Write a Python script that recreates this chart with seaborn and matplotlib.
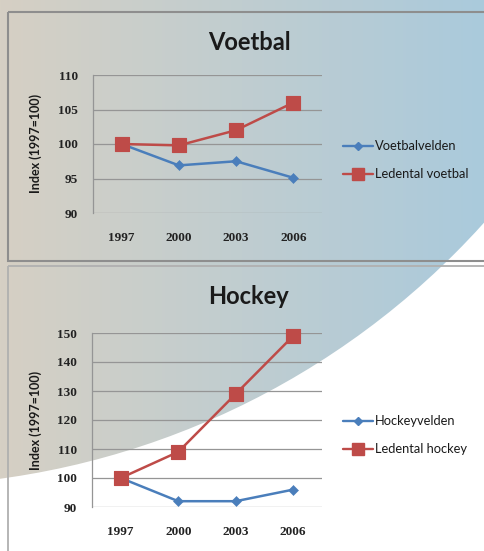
import numpy as np
import pandas as pd
import matplotlib
matplotlib.use("Agg")
import matplotlib.pyplot as plt
from matplotlib.patches import Circle, Rectangle
import seaborn as sns

years = ["1997", "2000", "2003", "2006"]

voetbalvelden = [100, 96.9, 97.5, 95.1]
ledental_voetbal = [100, 99.8, 102.0, 106.0]

hockeyvelden = [100, 92.0, 92.0, 96.0]
ledental_hockey = [100, 109.0, 129.0, 149.0]

sns.set_theme(style="white")
plt.rcParams["font.family"] = ["Lato", "DejaVu Sans"]

W, H = 484, 551
fig = plt.figure(figsize=(W / 100, H / 100), dpi=100)
fig.patch.set_facecolor("white")

# slide background: tan -> blue gradient inside a large circle, white outside
bg = fig.add_axes([0, 0, 1, 1])
bg.set_xlim(0, W)
bg.set_ylim(H, 0)
bg.axis("off")
tan = np.array([214, 208, 196]) / 255
blue = np.array([170, 202, 220]) / 255
t = np.linspace(0, 1, 256)[None, :, None]
grad = tan + (blue - tan) * t
grad = np.repeat(grad, 2, axis=0)
im = bg.imshow(grad, extent=[0, W, H, 0], aspect="auto", zorder=0)
circ = Circle((-107, -309), 795, transform=bg.transData, facecolor="none", edgecolor="none")
bg.add_patch(circ)
im.set_clip_path(circ)

# panel borders
bg.add_patch(Rectangle((8, 12), 490, 249, fill=False, edgecolor="#8e8e8e", lw=1.5, zorder=1))
bg.add_patch(Rectangle((8, 266), 490, 300, fill=False, edgecolor="#b0b0b0", lw=1.3, zorder=1))

blue_c = "#4a7ebb"
red_c = "#be4b48"


def draw_panel(rect, title, title_y, s1, s2, n1, n2, ylim, yticks, leg_y, ylab_y):
    ax = fig.add_axes(rect)
    ax.patch.set_alpha(0)
    df = pd.DataFrame({"jaar": years * 2, "index": s1 + s2,
                       "reeks": [n1] * len(years) + [n2] * len(years)})
    sns.lineplot(data=df, x="jaar", y="index", hue="reeks",
                 palette=[blue_c, red_c], lw=1.8, ax=ax, legend=False, sort=False)
    sns.scatterplot(data=df[df.reeks == n1], x="jaar", y="index", marker="D",
                    s=26, color=blue_c, edgecolor=blue_c, ax=ax, zorder=4, clip_on=False)
    sns.scatterplot(data=df[df.reeks == n2], x="jaar", y="index", marker="s",
                    s=105, color=red_c, edgecolor=red_c, ax=ax, zorder=4, clip_on=False)
    ax.set_xlim(-0.5, 3.5)
    ax.set_ylim(*ylim)
    ax.set_yticks(yticks)
    for y in yticks:
        ax.axhline(y, color="#959595", lw=0.9, zorder=1)
    for s in ["top", "right", "bottom"]:
        ax.spines[s].set_visible(False)
    ax.spines["left"].set_color("#959595")
    ax.spines["left"].set_linewidth(0.9)
    ax.tick_params(length=0, labelsize=9.5, colors="#222222")
    ax.tick_params(axis="y", pad=11)
    ax.tick_params(axis="x", pad=14)
    for lab in ax.get_xticklabels() + ax.get_yticklabels():
        lab.set_fontweight("bold")
        lab.set_family(["Liberation Serif", "DejaVu Serif"])
    ax.set_xlabel("")
    ax.set_ylabel("")
    fig.text(249 / W, 1 - title_y / H, title, ha="center", va="center",
             fontsize=17, fontweight="bold", color="#1a1a1a")
    fig.text(36 / W, 1 - ylab_y / H, "Index (1997=100)", rotation=90, ha="center",
             va="center", fontsize=9, fontweight="bold", color="#1a1a1a")
    # legend
    for (yy, name, col, mk, ms) in [(leg_y[0], n1, blue_c, "D", 4), (leg_y[1], n2, red_c, "s", 8)]:
        bg.plot([343, 373], [yy, yy], color=col, lw=1.7, zorder=3)
        bg.plot([358], [yy], marker=mk, color=col, ms=ms, zorder=3)
        bg.text(375, yy, name, ha="left", va="center", fontsize=9.3, color="#1a1a1a")
    return ax


draw_panel([93 / W, 1 - 213 / H, 229 / W, 138 / H], "Voetbal", 42,
           voetbalvelden, ledental_voetbal, "Voetbalvelden", "Ledental voetbal",
           (90, 110), [90, 95, 100, 105, 110], (146, 174), 143)

draw_panel([92 / W, 1 - 507 / H, 230 / W, 174 / H], "Hockey", 296,
           hockeyvelden, ledental_hockey, "Hockeyvelden", "Ledental hockey",
           (90, 150), [90, 100, 110, 120, 130, 140, 150], (421, 449), 420)

fig.savefig("out.png", dpi=100)
